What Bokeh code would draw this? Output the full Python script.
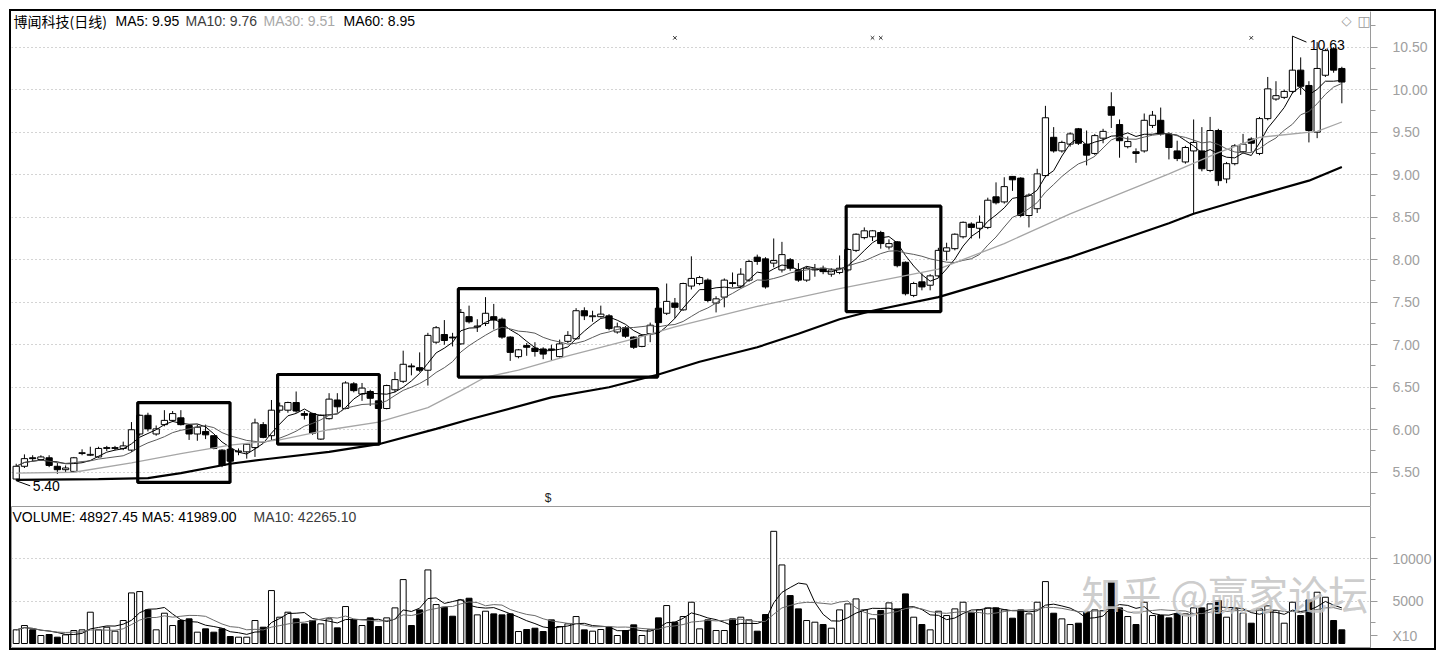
import numpy as np
import pandas as pd
from bokeh.plotting import figure
from bokeh.layouts import column
from bokeh.models import Range1d, FixedTicker, Label, NumeralTickFormatter
from bokeh.embed import file_html
from bokeh.resources import INLINE
from bokeh.core.properties import value

# ---------------- data ----------------
opens = [5.42,5.57,5.67,5.65,5.67,5.57,5.53,5.51,5.72,5.70,
         5.68,5.78,5.78,5.78,5.76,5.95,6.17,5.95,6.06,6.11,
         6.14,6.05,5.95,5.98,5.93,5.76,5.77,5.74,5.74,5.79,
         6.06,5.93,6.23,6.23,6.32,6.19,6.19,5.89,6.13,6.35,
         6.25,6.54,6.42,6.45,6.34,6.25,6.47,6.57,6.75,6.73,
         6.70,7.03,7.12,7.09,7.01,7.33,7.21,7.25,7.33,7.30,
         7.09,6.86,6.99,6.96,6.95,6.95,6.86,7.04,7.07,7.40,
         7.33,7.33,7.34,7.15,7.20,7.09,6.98,7.13,7.43,7.37,
         7.49,7.41,7.69,7.72,7.76,7.49,7.56,7.73,7.69,7.76,
         8.03,8.01,7.96,7.88,8.00,7.88,7.76,7.88,7.90,7.83,
         7.85,7.88,8.11,8.26,8.27,8.32,8.15,8.21,7.97,7.58,
         7.74,7.70,7.81,8.10,8.13,8.27,8.42,8.37,8.38,8.74,
         8.68,8.98,8.96,8.52,8.60,8.99,9.44,9.28,9.36,9.54,
         9.36,9.25,9.43,9.80,9.59,9.33,9.27,9.28,9.58,9.64,
         9.48,9.28,9.15,9.28,9.28,9.05,9.52,8.95,9.13,9.27,
         9.42,9.25,9.66,9.89,9.91,9.98,10.23,10.05,9.50,10.17,
         10.48,10.25]
highs = [5.60,5.71,5.70,5.70,5.70,5.61,5.58,5.68,5.77,5.80,
         5.80,5.81,5.81,5.86,6.09,6.18,6.20,6.05,6.23,6.22,
         6.23,6.06,6.06,6.06,5.93,5.77,5.79,5.78,5.84,6.13,
         6.09,6.35,6.32,6.33,6.45,6.22,6.20,6.18,6.43,6.43,
         6.57,6.56,6.55,6.47,6.36,6.53,6.68,6.93,6.78,6.91,
         7.14,7.22,7.29,7.14,7.42,7.46,7.30,7.56,7.48,7.32,
         7.10,6.95,7.02,7.03,6.97,7.00,7.06,7.16,7.43,7.44,
         7.40,7.46,7.36,7.26,7.22,7.10,7.12,7.26,7.45,7.72,
         7.55,7.73,8.04,7.81,7.78,7.57,7.78,7.85,7.90,8.00,
         8.06,8.03,8.25,8.21,8.02,7.96,7.92,7.95,7.93,7.90,
         8.05,8.14,8.31,8.38,8.35,8.34,8.24,8.22,7.98,7.74,
         7.84,7.83,8.14,8.20,8.31,8.45,8.44,8.52,8.73,8.91,
         8.97,8.98,8.97,8.78,9.07,9.81,9.56,9.40,9.50,9.55,
         9.52,9.48,9.54,9.97,9.65,9.45,9.31,9.72,9.75,9.79,
         9.50,9.40,9.34,9.65,9.56,9.68,9.54,9.15,9.36,9.48,
         9.44,9.68,10.15,10.10,10.00,10.63,10.38,10.10,10.56,10.48,
         10.50,10.27]
lows = [5.40,5.55,5.63,5.64,5.56,5.48,5.50,5.50,5.70,5.69,
        5.67,5.75,5.76,5.76,5.74,5.93,5.98,5.93,6.04,6.09,
        6.05,5.88,5.87,5.89,5.77,5.56,5.60,5.70,5.66,5.68,
        5.90,5.88,6.20,6.20,6.20,6.12,5.94,5.88,6.12,6.20,
        6.24,6.44,6.34,6.28,6.22,6.24,6.44,6.55,6.64,6.68,
        6.52,7.01,7.00,6.98,7.00,7.25,7.15,7.22,7.18,7.07,
        6.81,6.84,6.87,6.86,6.83,6.82,6.85,7.02,7.06,7.29,
        7.27,7.32,7.17,7.13,7.08,6.95,6.97,7.03,7.22,7.35,
        7.31,7.40,7.65,7.70,7.50,7.38,7.44,7.68,7.67,7.74,
        7.94,7.66,7.91,7.85,7.87,7.74,7.74,7.80,7.83,7.80,
        7.83,7.86,8.09,8.24,8.22,8.13,8.12,7.91,7.58,7.56,
        7.64,7.64,7.79,7.99,8.11,8.25,8.25,8.25,8.36,8.65,
        8.66,8.81,8.50,8.38,8.55,8.97,9.26,9.26,9.33,9.35,
        9.11,9.23,9.37,9.55,9.20,9.31,9.14,9.26,9.55,9.46,
        9.18,9.16,9.13,8.54,9.04,9.03,8.87,8.90,9.11,9.25,
        9.27,9.23,9.64,9.87,9.89,9.96,9.94,9.38,9.43,10.15,
        10.20,9.84]
closes = [5.57,5.66,5.66,5.68,5.58,5.53,5.55,5.67,5.73,5.71,
          5.78,5.79,5.79,5.81,6.00,6.17,6.01,6.01,6.11,6.19,
          6.06,5.95,6.03,5.94,5.78,5.58,5.63,5.75,5.83,6.08,
          5.91,6.23,6.28,6.32,6.22,6.17,5.96,6.17,6.36,6.27,
          6.55,6.46,6.49,6.37,6.25,6.52,6.59,6.77,6.74,6.70,
          7.11,7.20,7.05,7.08,7.38,7.27,7.22,7.37,7.29,7.09,
          6.91,6.94,6.97,6.92,6.89,6.94,7.01,7.11,7.40,7.34,
          7.34,7.36,7.19,7.21,7.10,6.97,7.11,7.23,7.26,7.51,
          7.44,7.72,7.78,7.79,7.52,7.54,7.76,7.72,7.83,7.98,
          7.98,7.68,7.99,8.06,7.90,7.76,7.90,7.89,7.86,7.88,
          7.90,8.12,8.30,8.34,8.34,8.19,8.19,7.93,7.60,7.72,
          7.68,7.81,8.11,8.14,8.30,8.44,8.38,8.44,8.70,8.67,
          8.86,8.94,8.52,8.76,9.01,9.67,9.28,9.38,9.48,9.37,
          9.23,9.46,9.51,9.70,9.40,9.39,9.25,9.64,9.70,9.48,
          9.32,9.19,9.32,9.38,9.07,9.52,8.93,9.13,9.34,9.36,
          9.37,9.66,10.01,9.93,9.98,10.23,10.04,9.52,10.25,10.46,
          10.23,10.09]
volumes = [1615,2122,1615,943,1061,747,1022,1533,1611,3695,
           1615,1925,1454,2712,5973,6131,3969,1615,3577,2122,
           2712,2908,1336,1729,1336,1729,825,747,747,2712,
           1925,6249,3105,3695,2908,2319,2712,2319,2908,1847,
           4363,2790,2122,3026,2004,3026,4205,7546,2122,3969,
           8686,4598,4284,3222,5148,5345,3380,3812,3498,3380,
           3498,1415,1651,1808,1415,2790,2004,2319,3183,1611,
           1454,1651,1925,943,1533,2201,943,1611,3026,4480,
           2515,3183,4873,1729,2790,1533,1533,2908,3105,2790,
           1454,3419,13243,9275,5659,4087,2712,2515,2240,1808,
           3969,4677,5266,3969,2908,3891,4795,4087,5855,3105,
           2240,1611,3812,3301,4087,4873,3695,3969,4205,4205,
           3969,2987,3969,3498,4873,7310,3577,2908,2240,2397,
           3695,3969,3891,7231,4205,3183,2240,4873,3301,3301,
           3026,3498,3498,4205,4205,4677,5070,3105,4087,3577,
           2397,4087,4441,3891,2397,4873,3301,5148,6053,5463,
           2712,1611]

# MA30 / MA60 (candle index, value)
ma30_idx = [0,7,14,20,26,32,38,44,50,54,57,61,67,75,80,90,100,112,120,128,140,146,151,158,161]
ma30_val = [5.49,5.50,5.61,5.72,5.82,5.88,6.00,6.09,6.26,6.46,6.62,6.70,6.87,7.07,7.21,7.45,7.66,7.89,8.19,8.54,9.01,9.26,9.44,9.51,9.62]
ma60_idx = [0,10,16,20,26,30,38,44,51,55,65,72,78,83,90,95,100,104,112,120,128,140,143,150,157,161]
ma60_val = [5.41,5.42,5.43,5.49,5.60,5.65,5.74,5.83,6.01,6.12,6.38,6.50,6.65,6.80,6.97,7.13,7.30,7.40,7.56,7.79,8.03,8.43,8.54,8.74,8.93,9.09]

# highlighted consolidation boxes (candle index span, price span)
box_start = [14.76, 31.75, 53.7, 100.8]
box_end = [25.97, 44.1, 77.9, 112.3]
box_low = [5.38, 5.83, 6.62, 7.39]
box_high = [6.32, 6.65, 7.66, 8.63]

event_idx = [80, 104, 105, 150]

price_ticks = [5.5, 6.0, 6.5, 7.0, 7.5, 8.0, 8.5, 9.0, 9.5, 10.0, 10.5]
price_minor = [5.25, 5.75, 6.25, 6.75, 7.25, 7.75, 8.25, 8.75, 9.25, 9.75, 10.25, 10.75]
vol_ticks = [5000, 10000]
vol_minor = [2500, 7500, 12500]
vol_unit_tick = 944          # where the "X10" unit tag sits on the volume axis

title_texts = ["博闻科技(日线)", "MA5: 9.95", "MA10: 9.76", "MA30: 9.51", "MA60: 8.95"]
vol_texts = ["VOLUME: 48927.45  MA5: 41989.00", "MA10: 42265.10"]
watermark = "知乎 @赢家论坛"

# ---------------- derived ----------------
n = len(closes)
idx = np.arange(n)
o = np.array(opens); c = np.array(closes); h = np.array(highs); l = np.array(lows)
v = np.array(volumes, dtype=float)
up = c >= o
body_fill = np.where(up, "white", "black")
ma5 = pd.Series(c).rolling(5, min_periods=1).mean().values
ma10 = pd.Series(c).rolling(10, min_periods=1).mean().values
vma5 = pd.Series(v).rolling(5, min_periods=1).mean().values
vma10 = pd.Series(v).rolling(10, min_periods=1).mean().values

FONT = "Liberation Sans"
CJK = "Noto Sans CJK SC"
GRID = "#a8a8a8"
AX = "#9a9a9a"
LBL = "#a0a0a0"

xr = Range1d(-0.57, 164.48)
W = 1423
H1 = 495
H2 = 142


def style_axis(ax):
    ax.axis_line_color = AX
    ax.major_tick_line_color = AX
    ax.minor_tick_line_color = AX
    ax.major_tick_out = 7
    ax.major_tick_in = 0
    ax.minor_tick_out = 5
    ax.minor_tick_in = 0
    ax.major_label_standoff = 15
    ax.major_label_text_color = LBL
    ax.major_label_text_font = FONT
    ax.major_label_text_font_size = "14px"


# ---------------- price panel ----------------
p = figure(width=W, height=H1, x_range=xr, y_range=Range1d(5.097, 10.92),
           output_backend="svg", toolbar_location=None,
           x_axis_location=None, y_axis_location="right",
           min_border_left=0, min_border_top=0, min_border_bottom=0, min_border_right=63)
p.outline_line_color = None
p.xgrid.grid_line_color = None
p.ygrid[0].ticker = FixedTicker(ticks=price_ticks)
p.ygrid.grid_line_color = GRID
p.ygrid.grid_line_dash = "1 3"
ya = p.yaxis[0]
ya.ticker = FixedTicker(ticks=price_ticks, minor_ticks=price_minor)
ya.formatter = NumeralTickFormatter(format="0.00")
style_axis(ya)

p.segment(x0=idx, y0=l, x1=idx, y1=h, color="black", line_width=1)
p.vbar(x=idx, width=0.76, top=np.maximum(o, c), bottom=np.minimum(o, c),
       fill_color=body_fill, line_color="black", line_width=1)

p.line(idx, ma5, color="black", line_width=1)
p.line(idx, ma10, color="#5a5a5a", line_width=1)
p.line(ma30_idx, ma30_val, color="#a6a6a6", line_width=1.3)
p.line(ma60_idx, ma60_val, color="black", line_width=2.2)

p.quad(left=box_start, right=box_end, bottom=box_low, top=box_high,
       fill_alpha=0, line_color="black", line_width=3.2)

# min / max markers
i_lo = int(np.argmin(l)); i_hi = int(np.argmax(h))
p.segment(x0=[i_lo, i_hi], y0=[l[i_lo], h[i_hi]], x1=[i_lo + 1.7, i_hi + 1.7],
          y1=[l[i_lo] - 0.06, h[i_hi] - 0.07], color="black", line_width=1)
p.text(x=[i_lo + 2.0, i_hi + 2.1], y=[l[i_lo] - 0.06, h[i_hi] - 0.1],
       text=[f"{l[i_lo]:.2f}", f"{h[i_hi]:.2f}"], text_font=value(FONT),
       text_font_size="14px", text_baseline="middle", text_align="left", text_color="black")

p.scatter(x=event_idx, y=[10.61] * len(event_idx), marker="x", size=5, color="#333333", line_width=1)

tx = [2, 104, 174, 252, 332]
tcol = ["black", "black", "#3c3c3c", "#a8a8a8", "black"]
tfont = [CJK, FONT, FONT, FONT, FONT]
for t, xx, cc, ff in zip(title_texts, tx, tcol, tfont):
    p.add_layout(Label(x=xx, y=H1 - 9, x_units="screen", y_units="screen", text=t,
                       text_font=ff, text_font_size="14px", text_color=cc,
                       text_baseline="middle", text_align="left"))
p.add_layout(Label(x=1330, y=H1 - 9, x_units="screen", y_units="screen", text="◇",
                   text_font="DejaVu Sans", text_font_size="13px", text_color="#999999",
                   text_baseline="middle"))
p.add_layout(Label(x=1346, y=H1 - 9, x_units="screen", y_units="screen", text="◫",
                   text_font="DejaVu Sans", text_font_size="14px", text_color="#999999",
                   text_baseline="middle"))
p.add_layout(Label(x=64.6, y=5.2, text="$", text_font=FONT, text_font_size="12px",
                   text_color="#222222", text_baseline="middle", text_align="center"))

# ---------------- volume panel ----------------
pv = figure(width=W, height=H2, x_range=xr, y_range=Range1d(-590, 16174),
            output_backend="svg", toolbar_location=None,
            x_axis_location=None, y_axis_location="right",
            min_border_left=0, min_border_top=0, min_border_bottom=0, min_border_right=63)
pv.outline_line_color = AX
pv.xgrid.grid_line_color = None
pv.ygrid[0].ticker = FixedTicker(ticks=vol_ticks)
pv.ygrid.grid_line_color = GRID
pv.ygrid.grid_line_dash = "1 3"
va = pv.yaxis[0]
va.ticker = FixedTicker(ticks=vol_ticks + [vol_unit_tick], minor_ticks=vol_minor)
va.formatter = NumeralTickFormatter(format="0")
va.major_label_overrides = {vol_unit_tick: "X10"}
style_axis(va)

pv.vbar(x=idx, width=0.72, top=v, bottom=0, fill_color=body_fill, line_color="black", line_width=1)
pv.line(idx, vma5, color="black", line_width=1)
pv.line(idx, vma10, color="#6a6a6a", line_width=1)

pv.add_layout(Label(x=1, y=H2 - 10, x_units="screen", y_units="screen", text=vol_texts[0],
                    text_font=FONT, text_font_size="14px", text_color="black",
                    text_baseline="middle"))
pv.add_layout(Label(x=242, y=H2 - 10, x_units="screen", y_units="screen", text=vol_texts[1],
                    text_font=FONT, text_font_size="14px", text_color="#3c3c3c",
                    text_baseline="middle"))
pv.add_layout(Label(x=1070, y=56, x_units="screen", y_units="screen", text=watermark,
                    text_font=CJK, text_font_size="40px", text_color="#c4c4c4", text_alpha=0.85,
                    text_baseline="middle"))

layout = column(p, pv, styles={"border": "2px solid black", "margin": "9px 0 0 9px"})
open("out.html", "w").write(file_html(layout, INLINE))
